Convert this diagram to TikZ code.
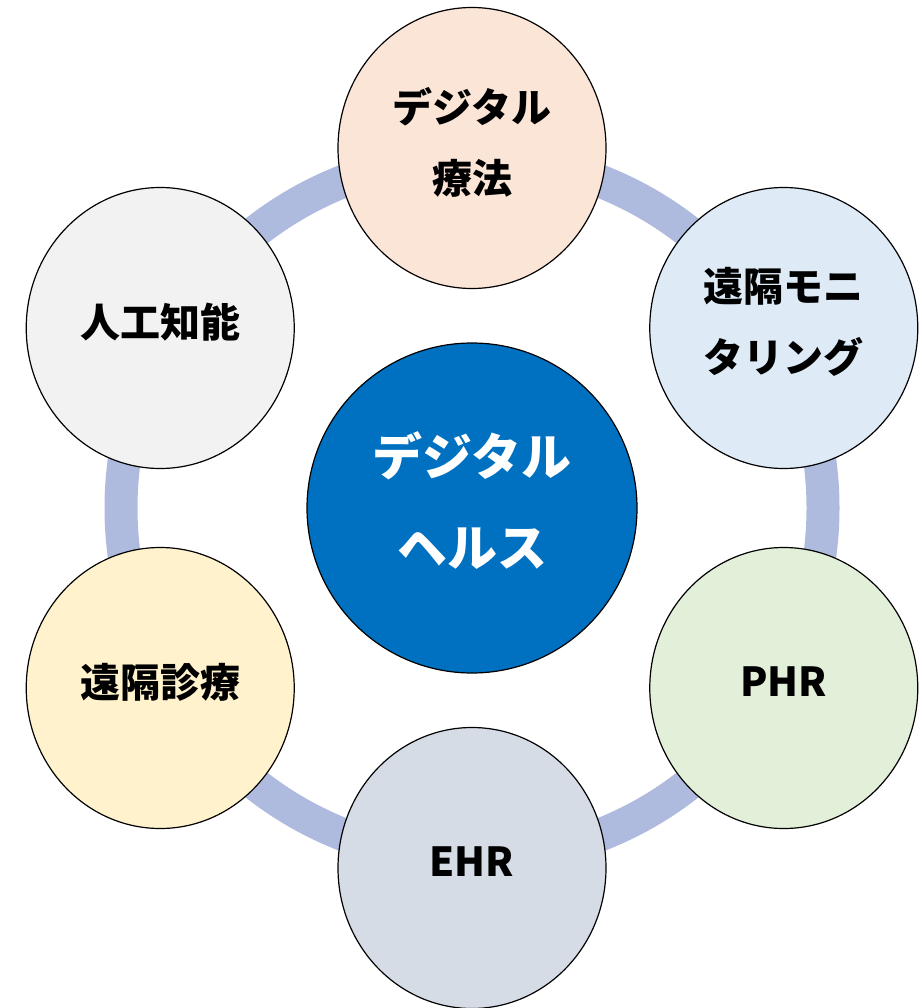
\documentclass[tikz,border=0pt]{standalone}
\usepackage{fontspec}
\usetikzlibrary{shapes.geometric,backgrounds}
\newfontfamily\jpfont{Noto Sans CJK JP}

\definecolor{ringBlue}{HTML}{AFBBDE}
\definecolor{hubBlue}{HTML}{0070C0}
\definecolor{peach}{HTML}{FBE5D6}
\definecolor{paleBlue}{HTML}{DEEBF7}
\definecolor{paleGreen}{HTML}{E2F0D9}
\definecolor{slateGray}{HTML}{D6DCE5}
\definecolor{paleGold}{HTML}{FFF2CC}
\definecolor{paleGray}{HTML}{F2F2F2}

\tikzset{%
	topicCircle/.style={%
		ellipse,
		draw=black,
		line width=1.2pt,
		minimum width=268pt,
		minimum height=281pt,
		inner sep=0pt
	},
	topicText/.style={%
		yshift=6pt,
		inner sep=0pt,
		align=center,
		font=\jpfont\bfseries\fontsize{40}{71}\selectfont
	},
	hubCircle/.style={%
		circle,
		draw=black,
		fill=hubBlue,
		line width=1.2pt,
		minimum size=330pt,
		inner sep=0pt
	},
	hubText/.style={%
		yshift=7pt,
		inner sep=0pt,
		align=center,
		text=white,
		font=\jpfont\bfseries\fontsize{50}{91}\selectfont
	},
	ringBand/.style={%
		draw=ringBlue,
		line width=33pt
	}
}

\begin{document}
\begin{tikzpicture}[x=1pt, y=-1pt]
	\useasboundingbox (0,0) rectangle (921,1008);

	\node[hubCircle, label={[hubText]center:デジタル\\ヘルス}] (hub) at (472,508) {};

	\foreach \a/\name/\col/\txt in {%
		90/therapy/peach/{デジタル\\療法},
		30/monitor/paleBlue/{遠隔モニ\\タリング},
		-30/phr/paleGreen/{PHR},
		-90/ehr/slateGray/{EHR},
		-150/telemed/paleGold/{遠隔診療},
		150/ai/paleGray/{人工知能}} {
		\node[topicCircle, fill=\col, label={[topicText]center:\txt}]
			(\name) at ([shift={(\a:360pt)}]hub.center) {};
	}

	\begin{scope}[on background layer]
		\draw[ringBand] (hub.center) circle[radius=351pt];
	\end{scope}
\end{tikzpicture}
\end{document}
